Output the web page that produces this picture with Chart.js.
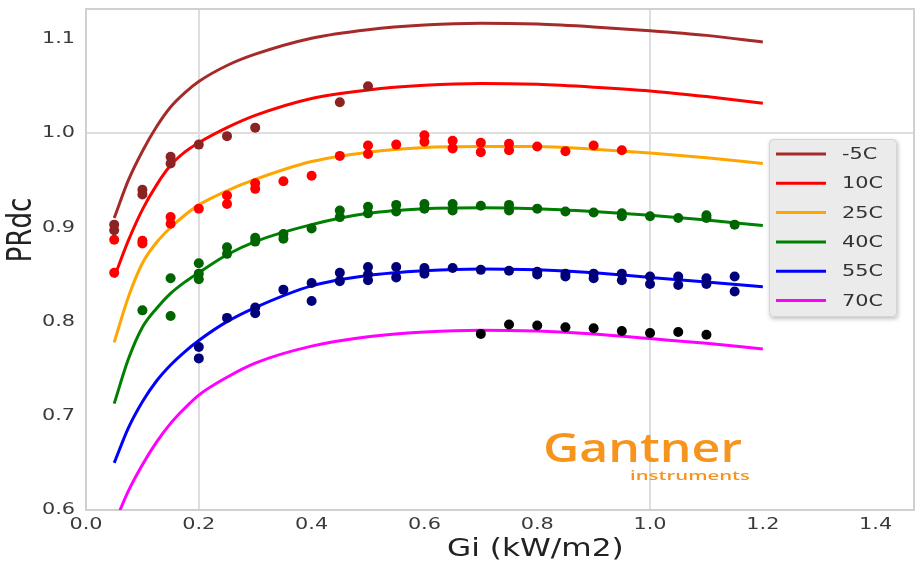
<!DOCTYPE html>
<html>
<head>
<meta charset="utf-8">
<script src="https://cdn.jsdelivr.net/npm/chart.js@4.4.1/dist/chart.umd.min.js"></script>
<style>
  body { margin: 0; background: #fff; }
  #wrap { width: 922px; height: 570px; }
</style>
</head>
<body>
<div id="wrap"><canvas id="myChart" width="922" height="570"></canvas></div>
<script>
// fitted curves, all share the same Gi points
const fitX = [0.05, 0.075, 0.1, 0.125, 0.15, 0.175, 0.2, 0.25, 0.3, 0.4, 0.5, 0.6, 0.7, 0.8, 0.9, 1.0, 1.1, 1.2];
const fitMinus5 = [0.910, 0.950, 0.981, 1.007, 1.028, 1.043, 1.055, 1.072, 1.084, 1.101, 1.110, 1.115, 1.117, 1.116, 1.113, 1.109, 1.104, 1.097];
const fit10 = [0.847, 0.886, 0.919, 0.945, 0.966, 0.980, 0.990, 1.006, 1.019, 1.037, 1.046, 1.051, 1.053, 1.052, 1.049, 1.045, 1.039, 1.032];
const fit25 = [0.778, 0.826, 0.862, 0.884, 0.900, 0.913, 0.924, 0.939, 0.951, 0.970, 0.980, 0.985, 0.986, 0.986, 0.983, 0.979, 0.974, 0.968];
const fit40 = [0.713, 0.760, 0.794, 0.814, 0.830, 0.842, 0.852, 0.871, 0.885, 0.903, 0.915, 0.920, 0.921, 0.920, 0.917, 0.913, 0.908, 0.902];
const fit55 = [0.650, 0.687, 0.715, 0.737, 0.754, 0.768, 0.780, 0.800, 0.815, 0.838, 0.849, 0.854, 0.856, 0.855, 0.852, 0.847, 0.842, 0.837];
const fit70 = [0.585, 0.620, 0.648, 0.672, 0.692, 0.708, 0.722, 0.741, 0.756, 0.774, 0.784, 0.789, 0.791, 0.790, 0.787, 0.782, 0.777, 0.771];

const curveLabels = ['-5C', '10C', '25C', '40C', '55C', '70C'];
const curveColors = ['#a52a2a', '#ff0000', '#ffa500', '#008000', '#0000ff', '#ff00ff'];

// measured points (dots)
const brownX = [0.05, 0.05, 0.1, 0.1, 0.15, 0.15, 0.2, 0.25, 0.3, 0.45, 0.5];
const brownY = [0.897, 0.903, 0.940, 0.935, 0.975, 0.968, 0.988, 0.997, 1.006, 1.033, 1.050];

const redX = [0.05, 0.05, 0.1, 0.1, 0.15, 0.15, 0.2, 0.25, 0.25, 0.3, 0.3, 0.35, 0.4, 0.45, 0.5, 0.5, 0.55, 0.6, 0.6, 0.65, 0.65, 0.7, 0.7, 0.75, 0.75, 0.8, 0.85, 0.9, 0.95];
const redY = [0.887, 0.852, 0.886, 0.883, 0.911, 0.904, 0.920, 0.934, 0.925, 0.947, 0.941, 0.949, 0.955, 0.976, 0.987, 0.978, 0.988, 0.998, 0.991, 0.992, 0.984, 0.990, 0.980, 0.989, 0.982, 0.986, 0.981, 0.987, 0.982];

const greenX = [0.1, 0.15, 0.15, 0.2, 0.2, 0.2, 0.25, 0.25, 0.3, 0.3, 0.35, 0.35, 0.4, 0.45, 0.45, 0.5, 0.5, 0.55, 0.55, 0.6, 0.6, 0.65, 0.65, 0.7, 0.75, 0.75, 0.8, 0.85, 0.9, 0.95, 0.95, 1.0, 1.05, 1.1, 1.1, 1.15];
const greenY = [0.812, 0.846, 0.806, 0.862, 0.851, 0.845, 0.879, 0.872, 0.889, 0.885, 0.893, 0.888, 0.899, 0.918, 0.911, 0.922, 0.915, 0.924, 0.917, 0.925, 0.920, 0.925, 0.918, 0.923, 0.924, 0.918, 0.920, 0.917, 0.916, 0.915, 0.912, 0.912, 0.910, 0.913, 0.910, 0.903];

const navyX = [0.2, 0.2, 0.25, 0.3, 0.3, 0.35, 0.4, 0.4, 0.45, 0.45, 0.5, 0.5, 0.5, 0.55, 0.55, 0.6, 0.6, 0.65, 0.7, 0.75, 0.8, 0.8, 0.85, 0.85, 0.9, 0.9, 0.95, 0.95, 1.0, 1.0, 1.05, 1.05, 1.1, 1.1, 1.15, 1.15];
const navyY = [0.773, 0.761, 0.804, 0.815, 0.809, 0.834, 0.841, 0.822, 0.852, 0.843, 0.858, 0.850, 0.844, 0.858, 0.847, 0.857, 0.851, 0.857, 0.855, 0.854, 0.853, 0.850, 0.851, 0.848, 0.851, 0.846, 0.851, 0.844, 0.848, 0.840, 0.848, 0.839, 0.846, 0.840, 0.848, 0.832];

const blackX = [0.7, 0.75, 0.8, 0.85, 0.9, 0.95, 1.0, 1.05, 1.1];
const blackY = [0.787, 0.797, 0.796, 0.794, 0.793, 0.790, 0.788, 0.789, 0.786];

const xTicks = [0.0, 0.2, 0.4, 0.6, 0.8, 1.0, 1.2, 1.4];
const yTicks = [0.6, 0.7, 0.8, 0.9, 1.0, 1.1];
const xGridAt = [0.2, 1.0];
const yGridAt = [1.0];

const SX = 1.3; // the picture is stretched sideways, text too
const FONT = '"DejaVu Sans", sans-serif';

function pairs(xs, ys) {
  return xs.map((x, i) => ({ x: x, y: ys[i] }));
}

function stretchText(ctx, text, x, y, align, sx) {
  ctx.save();
  ctx.translate(x, y);
  ctx.scale(sx, 1);
  ctx.textAlign = align;
  ctx.fillText(text, 0, 0);
  ctx.restore();
}

const fits = [fitMinus5, fit10, fit25, fit40, fit55, fit70];
const datasets = [];

// dots first so they sit on top of the lines
const dotSets = [
  [brownX, brownY, '#8b2323'],
  [redX, redY, '#ff0000'],
  [greenX, greenY, '#006400'],
  [navyX, navyY, '#00007a'],
  [blackX, blackY, '#000000']
];
dotSets.forEach(d => {
  datasets.push({
    type: 'scatter',
    label: '',
    data: pairs(d[0], d[1]),
    backgroundColor: d[2],
    borderWidth: 0,
    pointRadius: 5,
    order: 1
  });
});

fits.forEach((f, i) => {
  datasets.push({
    type: 'line',
    label: curveLabels[i],
    data: pairs(fitX, f),
    borderColor: curveColors[i],
    borderWidth: 3,
    pointRadius: 0,
    fill: false,
    cubicInterpolationMode: 'monotone',
    order: 2
  });
});

// draws the frame, tick text, titles, legend and the logo
const decor = {
  id: 'decor',
  afterDraw(chart) {
    const ctx = chart.ctx;
    const a = chart.chartArea;
    const xs = chart.scales.x;
    const ys = chart.scales.y;

    ctx.save();
    ctx.strokeStyle = '#d0d0d0';
    ctx.lineWidth = 2;
    ctx.beginPath();
    ctx.moveTo(a.left, a.top);
    ctx.lineTo(a.right, a.top);
    ctx.lineTo(a.right, a.bottom);
    ctx.stroke();

    // tick labels
    ctx.fillStyle = '#3a3a3a';
    ctx.font = '16px ' + FONT;
    ctx.textBaseline = 'middle';
    xTicks.forEach(v => {
      stretchText(ctx, v.toFixed(1), xs.getPixelForValue(v), a.bottom + 15, 'center', SX);
    });
    yTicks.forEach(v => {
      stretchText(ctx, v.toFixed(1), a.left - 11, ys.getPixelForValue(v), 'right', SX);
    });

    // axis titles
    ctx.fillStyle = '#222';
    ctx.font = '24px ' + FONT;
    ctx.textBaseline = 'alphabetic';
    stretchText(ctx, 'Gi (kW/m2)', 447, 556, 'left', SX);

    ctx.save();
    ctx.translate(22, 230);
    ctx.scale(SX, 1);
    ctx.rotate(-Math.PI / 2);
    ctx.font = '26px ' + FONT;
    ctx.textAlign = 'center';
    ctx.textBaseline = 'middle';
    ctx.fillText('PRdc', 0, 0);
    ctx.restore();

    // legend box
    ctx.save();
    ctx.shadowColor = 'rgba(0,0,0,0.25)';
    ctx.shadowBlur = 4;
    ctx.shadowOffsetX = 1;
    ctx.shadowOffsetY = 2;
    ctx.fillStyle = '#ebebeb';
    ctx.beginPath();
    ctx.roundRect(769, 139, 128, 178, 4);
    ctx.fill();
    ctx.restore();
    ctx.strokeStyle = '#d4d4d4';
    ctx.lineWidth = 1;
    ctx.beginPath();
    ctx.roundRect(769.5, 139.5, 127, 177, 4);
    ctx.stroke();

    ctx.font = '16px ' + FONT;
    ctx.textBaseline = 'middle';
    curveLabels.forEach((lab, i) => {
      const yy = 154 + i * 29.3;
      ctx.strokeStyle = curveColors[i];
      ctx.lineWidth = 3;
      ctx.beginPath();
      ctx.moveTo(776, yy);
      ctx.lineTo(826, yy);
      ctx.stroke();
      ctx.fillStyle = '#333';
      stretchText(ctx, lab, 842, yy + 1, 'left', SX);
    });

    // logo
    ctx.fillStyle = '#f7941d';
    ctx.textBaseline = 'alphabetic';
    ctx.font = '600 40px "Open Sans", sans-serif';
    let w = ctx.measureText('Gantner').width;
    stretchText(ctx, 'Gantner', 543, 462, 'left', 199 / w);
    ctx.font = '600 12px "Open Sans", sans-serif';
    w = ctx.measureText('instruments').width;
    stretchText(ctx, 'instruments', 630, 480, 'left', 120 / w);

    ctx.restore();
  }
};

const chart = new Chart(document.getElementById('myChart'), {
  type: 'scatter',
  data: { datasets: datasets },
  options: {
    responsive: false,
    animation: false,
    layout: { padding: { top: 9, right: 8, left: 0, bottom: 0 } },
    plugins: {
      legend: { display: false },
      tooltip: { enabled: false }
    },
    scales: {
      x: {
        type: 'linear',
        min: 0,
        max: 1.468,
        ticks: { display: false, stepSize: 0.2, includeBounds: false },
        grid: {
          drawTicks: false,
          lineWidth: 2,
          color: c => xGridAt.some(g => Math.abs(c.tick.value - g) < 1e-6) ? '#dedede' : 'rgba(0,0,0,0)'
        },
        border: { color: '#d0d0d0', width: 2 },
        afterFit: s => { s.height = 60; }
      },
      y: {
        type: 'linear',
        min: 0.6,
        max: 1.132,
        ticks: { display: false, stepSize: 0.1, includeBounds: false },
        grid: {
          drawTicks: false,
          lineWidth: 2,
          color: c => yGridAt.some(g => Math.abs(c.tick.value - g) < 1e-6) ? '#dedede' : 'rgba(0,0,0,0)'
        },
        border: { color: '#d0d0d0', width: 2 },
        afterFit: s => { s.width = 86; }
      }
    }
  },
  plugins: [decor]
});
</script>
</body>
</html>
